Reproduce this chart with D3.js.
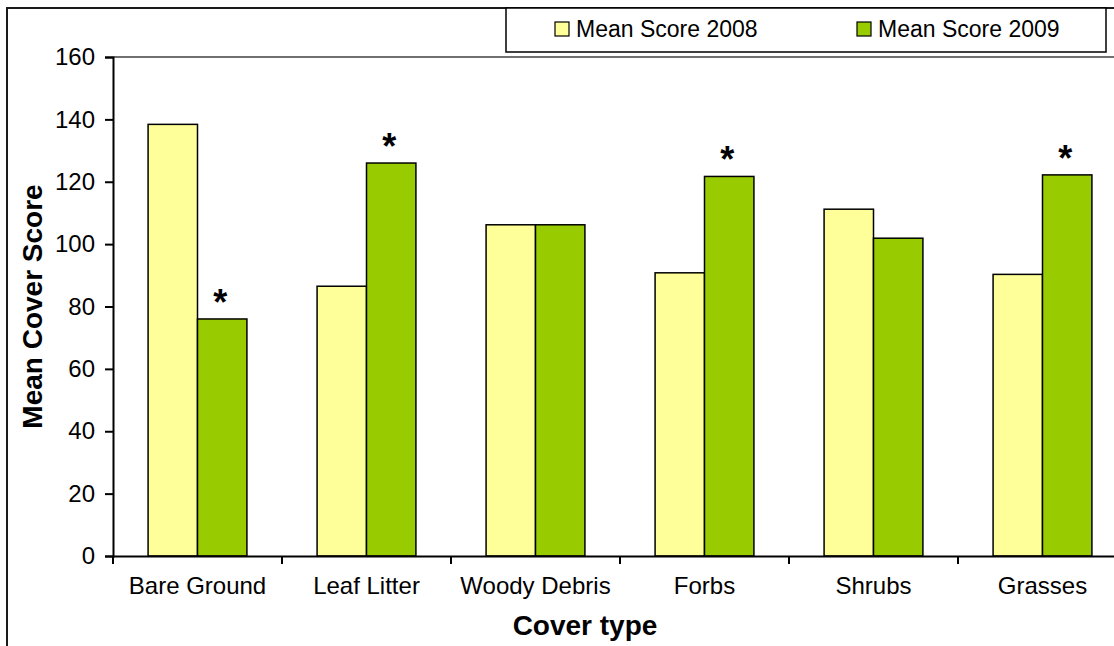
<!DOCTYPE html>
<html>
<head>
<meta charset="utf-8">
<script src="https://cdn.jsdelivr.net/npm/d3@7"></script>
<style>
  body { margin: 0; background: #fff; }
  text { font-family: "Liberation Sans", Arial, sans-serif; }
</style>
</head>
<body>
<div id="chart-area"></div>
<script>
// data
var categories = ["Bare Ground", "Leaf Litter", "Woody Debris", "Forbs", "Shrubs", "Grasses"];
var seriesNames = ["Mean Score 2008", "Mean Score 2009"];
var score2008 = [138.4, 86.5, 106.2, 90.8, 111.2, 90.3];
var score2009 = [76.0, 126.0, 106.2, 121.7, 101.9, 122.2];
var signif2009 = ["*", "*", "", "*", "", "*"];
var yTicks = [0, 20, 40, 60, 80, 100, 120, 140, 160];

var svg_width = 1114;
var svg_height = 646;
var colors = ["#FFFF99", "#99CC00"];

var plot = { left: 113, top: 57, right: 1127, bottom: 556 };

var svg = d3.select("#chart-area").append("svg")
    .attr("width", svg_width)
    .attr("height", svg_height);

// outer chart border (runs off the right and bottom edges)
svg.append("rect")
    .attr("x", 7).attr("y", 8)
    .attr("width", 1300).attr("height", 800)
    .attr("fill", "none")
    .attr("stroke", "#1a1a1a")
    .attr("stroke-width", 2);

var x0 = d3.scaleBand()
    .domain(categories)
    .range([plot.left, plot.right])
    .paddingInner(0)
    .paddingOuter(0);

var x1 = d3.scaleBand()
    .domain(seriesNames)
    .range([0, x0.bandwidth()])
    .paddingInner(0)
    .paddingOuter(0.71);

var y = d3.scaleLinear()
    .domain([0, 160])
    .range([plot.bottom, plot.top]);

// plot area top edge
svg.append("line")
    .attr("x1", plot.left).attr("x2", plot.right)
    .attr("y1", plot.top).attr("y2", plot.top)
    .attr("stroke", "#404040")
    .attr("stroke-width", 1.5);

var rows = categories.map((c, i) => {
    return { cat: c, values: [score2008[i], score2009[i]], sig: signif2009[i] };
});

var groups = svg.selectAll("g.group")
    .data(rows)
    .enter()
    .append("g")
    .attr("class", "group")
    .attr("transform", (d) => { return "translate(" + x0(d.cat) + ",0)"; });

groups.selectAll("rect")
    .data((d) => { return d.values.map((v, j) => { return { name: seriesNames[j], value: v, j: j }; }); })
    .enter()
    .append("rect")
    .attr("x", (d) => { return x1(d.name); })
    .attr("y", (d) => { return y(d.value); })
    .attr("width", x1.bandwidth())
    .attr("height", (d) => { return y(0) - y(d.value); })
    .attr("fill", (d) => { return colors[d.j]; })
    .attr("stroke", "#000")
    .attr("stroke-width", 1.5);

// significance asterisks over 2009 bars
groups.append("text")
    .attr("x", x1(seriesNames[1]) + x1.bandwidth() / 2 - 2)
    .attr("y", (d) => { return y(d.values[1]) - 4; })
    .attr("text-anchor", "middle")
    .attr("font-size", 36)
    .attr("font-weight", "bold")
    .text((d) => { return d.sig; });

// y axis
var yAxis = svg.append("g")
    .attr("transform", "translate(" + plot.left + ",0)")
    .call(d3.axisLeft(y).tickValues(yTicks).tickSize(8).tickPadding(10));
yAxis.select(".domain").attr("stroke", "#000").attr("stroke-width", 2);
yAxis.selectAll(".tick line").attr("stroke", "#000").attr("stroke-width", 2);
yAxis.selectAll(".tick text")
    .attr("font-size", 24)
    .attr("font-family", "Liberation Sans, Arial, sans-serif")
    .attr("fill", "#000");

// x axis: ticks on category boundaries, labels centred
var xAxis = svg.append("g")
    .attr("transform", "translate(0," + plot.bottom + ")")
    .call(d3.axisBottom(x0).tickSize(0).tickPadding(21));
xAxis.select(".domain").attr("stroke", "#000").attr("stroke-width", 2);
xAxis.selectAll(".tick text")
    .attr("font-size", 24)
    .attr("font-family", "Liberation Sans, Arial, sans-serif")
    .attr("fill", "#000");

var bounds = categories.map((c) => { return x0(c); }).concat([plot.right]);
xAxis.selectAll("line.bound")
    .data(bounds)
    .enter()
    .append("line")
    .attr("class", "bound")
    .attr("x1", (d) => { return d; }).attr("x2", (d) => { return d; })
    .attr("y1", 0).attr("y2", 8)
    .attr("stroke", "#000")
    .attr("stroke-width", 2);

// axis titles
svg.append("text")
    .attr("transform", "translate(42," + ((plot.top + plot.bottom) / 2) + ") rotate(-90)")
    .attr("text-anchor", "middle")
    .attr("font-size", 28)
    .attr("font-weight", "bold")
    .text("Mean Cover Score");

svg.append("text")
    .attr("x", 585)
    .attr("y", 635)
    .attr("text-anchor", "middle")
    .attr("font-size", 28)
    .attr("font-weight", "bold")
    .text("Cover type");

// legend
var legend = svg.append("g");
legend.append("rect")
    .attr("x", 506).attr("y", 8)
    .attr("width", 600).attr("height", 44)
    .attr("fill", "#fff")
    .attr("stroke", "#000")
    .attr("stroke-width", 1.5);

var legendX = [555, 857];
var items = legend.selectAll("g.item")
    .data(seriesNames)
    .enter()
    .append("g")
    .attr("class", "item")
    .attr("transform", (d, i) => { return "translate(" + legendX[i] + ",22)"; });

items.append("rect")
    .attr("width", 14).attr("height", 14)
    .attr("fill", (d, i) => { return colors[i]; })
    .attr("stroke", "#000")
    .attr("stroke-width", 1.2);

items.append("text")
    .attr("x", 21)
    .attr("y", 15)
    .attr("font-size", 23)
    .text((d) => { return d; });
</script>
</body>
</html>
